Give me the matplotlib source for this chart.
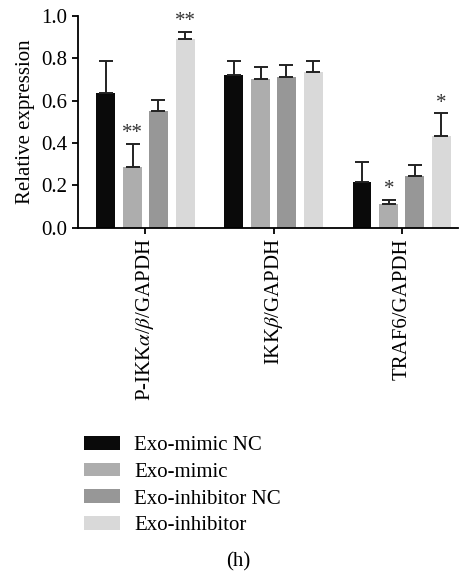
import numpy as np
import matplotlib.pyplot as plt

plt.rcParams['font.family'] = ['Liberation Serif', 'DejaVu Serif']
plt.rcParams['mathtext.fontset'] = 'stix'

# data
categories = [r'P-IKK$\alpha$/$\beta$/GAPDH', r'IKK$\beta$/GAPDH', 'TRAF6/GAPDH']
groups = ['Exo-mimic NC', 'Exo-mimic', 'Exo-inhibitor NC', 'Exo-inhibitor']
colors = ['#0a0a0a', '#adadad', '#979797', '#d9d9d9']

means = [
    [0.635, 0.720, 0.215],   # Exo-mimic NC
    [0.286, 0.701, 0.113],   # Exo-mimic
    [0.550, 0.711, 0.244],   # Exo-inhibitor NC
    [0.890, 0.734, 0.432],   # Exo-inhibitor
]
errors = [
    [0.153, 0.068, 0.093],
    [0.110, 0.057, 0.019],
    [0.051, 0.055, 0.053],
    [0.035, 0.052, 0.107],
]
stars = [
    ['', '', ''],
    ['**', '', '*'],
    ['', '', ''],
    ['**', '', '*'],
]

fig = plt.figure(figsize=(4.59, 5.74), dpi=100)
ax = fig.add_axes([0.169, 0.6033, 0.829, 0.3693])

x = np.arange(len(categories))
width = 0.148
offsets = [-0.31, -0.10, 0.10, 0.31]

for i in range(len(groups)):
    ax.bar(x + offsets[i], means[i], width, color=colors[i], label=groups[i],
           yerr=[np.zeros(3), errors[i]], error_kw=dict(ecolor='#222222', elinewidth=1.4,
           capsize=5.2, capthick=1.4), zorder=2)
    for j in range(len(categories)):
        if stars[i][j]:
            ax.text(x[j] + offsets[i], means[i][j] + errors[i][j] + 0.003, stars[i][j],
                    ha='center', va='bottom', fontsize=15, color='#333333')

ax.set_xlim(-0.53, 2.44)
ax.set_ylim(0, 1.0)
ax.set_yticks(np.linspace(0, 1, 6))
ax.set_yticklabels(['%.1f' % v for v in np.linspace(0, 1, 6)], fontsize=15)
ax.set_xticks(x)
ax.set_xticklabels(categories, rotation=90, fontsize=15)
ax.set_ylabel('Relative expression', fontsize=15)
ax.spines['top'].set_visible(False)
ax.spines['right'].set_visible(False)
ax.spines['left'].set_linewidth(1.3)
ax.spines['bottom'].set_linewidth(1.3)
ax.tick_params(axis='both', direction='out', width=1.3, length=4)

fig.legend(loc='upper left', bbox_to_anchor=(0.161, 0.259), frameon=False,
           fontsize=15, handlelength=1.7, handleheight=0.65, labelspacing=0.36,
           handletextpad=0.7, borderpad=0)

fig.text(0.518, 0.021, '(h)', ha='center', va='center', fontsize=15)

fig.savefig('out.png', dpi=100)
